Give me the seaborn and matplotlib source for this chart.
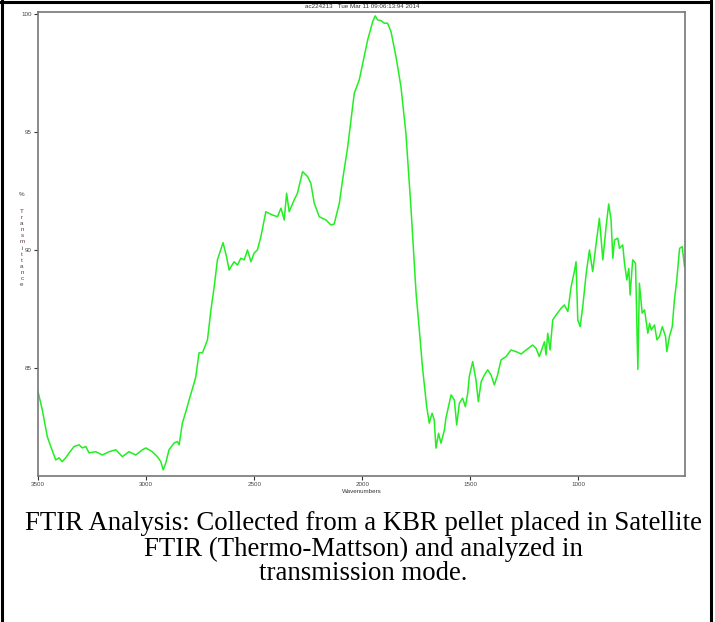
import numpy as np
import pandas as pd
import seaborn as sns
from matplotlib import pyplot as plt
from matplotlib.lines import Line2D

# spectrum (wavenumber, %T)
wavenumbers = [3500, 3480, 3457, 3441, 3418, 3403, 3388, 3372, 3356, 3333, 3310, 3295, 3279, 3264,
               3233, 3202, 3171, 3140, 3110, 3079, 3048, 3017, 3001, 2971, 2948, 2932, 2921, 2909,
               2894, 2870, 2855, 2847, 2832, 2816, 2801, 2778, 2770, 2755, 2739, 2716, 2700, 2685,
               2670, 2644, 2628, 2616, 2593, 2577, 2562, 2546, 2531, 2515, 2500, 2485, 2469, 2446,
               2415, 2392, 2376, 2361, 2350, 2338, 2315, 2300, 2276, 2253, 2238, 2222, 2199, 2168,
               2145, 2130, 2106, 2091, 2068, 2037, 2014, 1975, 1952, 1940, 1929, 1913, 1898, 1883,
               1867, 1844, 1821, 1798, 1775, 1751, 1736, 1721, 1702, 1690, 1677, 1667, 1659, 1647,
               1636, 1620, 1613, 1589, 1574, 1563, 1551, 1536, 1523, 1512, 1505, 1489, 1474, 1463,
               1450, 1435, 1420, 1404, 1389, 1374, 1358, 1335, 1312, 1288, 1265, 1242, 1212, 1196,
               1181, 1157, 1150, 1142, 1131, 1119, 1103, 1080, 1065, 1049, 1034, 1019, 1011, 1003,
               992, 980, 964, 949, 934, 918, 903, 887, 872, 860, 849, 841, 833, 818, 810, 795, 787,
               776, 767, 761, 749, 736, 730, 725, 718, 705, 694, 679, 671, 663, 648, 637, 625, 612,
               597, 591, 579, 566, 556, 545, 532, 520, 509]
transmittance = [84.00, 83.22, 82.09, 81.67, 81.10, 81.19, 81.03, 81.19, 81.40, 81.67, 81.74, 81.61,
                 81.67, 81.40, 81.45, 81.31, 81.45, 81.53, 81.24, 81.45, 81.31, 81.53, 81.61, 81.45,
                 81.24, 81.03, 80.68, 80.97, 81.53, 81.82, 81.88, 81.74, 82.67, 83.15, 83.64, 84.36,
                 84.63, 85.64, 85.64, 86.19, 87.46, 88.44, 89.58, 90.31, 89.72, 89.15, 89.50, 89.36,
                 89.65, 89.58, 90.00, 89.50, 89.87, 90.00, 90.56, 91.62, 91.48, 91.41, 91.77, 91.27,
                 92.40, 91.62, 92.12, 92.40, 93.32, 93.11, 92.83, 91.98, 91.41, 91.27, 91.06, 91.10,
                 91.98, 92.97, 94.32, 96.64, 97.20, 98.90, 99.67, 99.92, 99.75, 99.72, 99.61, 99.61,
                 99.25, 98.19, 96.92, 94.94, 91.83, 88.17, 86.61, 84.99, 83.36, 82.66, 83.08, 82.80,
                 81.60, 82.23, 81.81, 82.37, 82.87, 83.86, 83.64, 82.58, 83.50, 83.72, 83.36, 83.93,
                 84.63, 85.27, 84.49, 83.57, 84.42, 84.70, 84.92, 84.70, 84.28, 84.70, 85.34, 85.48,
                 85.76, 85.69, 85.59, 85.76, 85.97, 85.83, 85.48, 86.11, 85.55, 86.47, 85.76, 87.03,
                 87.25, 87.53, 87.67, 87.39, 88.43, 89.08, 89.50, 87.03, 86.75, 87.60, 89.01, 90.00,
                 89.08, 90.28, 91.34, 89.58, 90.99, 91.95, 91.27, 89.65, 90.42, 90.50, 90.07, 90.21,
                 89.44, 88.73, 89.22, 88.09, 89.58, 89.44, 87.03, 84.94, 88.59, 87.32, 87.46, 86.47,
                 86.89, 86.61, 86.82, 86.19, 86.33, 86.75, 86.33, 85.69, 86.33, 86.75, 87.88, 88.73,
                 90.07, 90.14, 89.29]

x_ticks = [3500, 3000, 2500, 2000, 1500, 1000]
y_ticks = [85, 90, 95, 100]
header = "ac224213   Tue Mar 11 09:06:13:94 2014"
caption = ["FTIR Analysis: Collected from a KBR pellet placed in Satellite",
           "FTIR (Thermo-Mattson) and analyzed in",
           "transmission mode."]

sns.set_style("white")
plt.rcParams['font.family'] = ['Liberation Sans', 'DejaVu Sans']

W, H = 715, 622
fig = plt.figure(figsize=(W / 100, H / 100), dpi=100)
ax = fig.add_axes([38 / W, 1 - 476 / H, 647 / W, 464 / H])

df = pd.DataFrame({'wn': wavenumbers, 't': transmittance})
sns.lineplot(data=df, x='wn', y='t', sort=False, color='#22ee22', linewidth=1.1, ax=ax)

ax.set_xlim(3500, 507)
ax.set_ylim(80.42, 100.085)
ax.set_xticks(x_ticks)
ax.set_xticklabels([str(v) for v in x_ticks])
ax.set_yticks(y_ticks)
ax.set_yticklabels([str(v) for v in y_ticks])
ax.tick_params(axis='both', direction='out', length=3, width=0.8, color='#333333',
               labelsize=4.5, labelcolor='#444444', pad=1.5, left=True, bottom=True)
ax.set_xlabel("Wavenumbers", fontsize=4.5, color='#333333', labelpad=1)
ax.set_ylabel("")
for s in ax.spines.values():
    s.set_color('#777777')
    s.set_linewidth(1.2)
ax.grid(False)

# header above the frame
fig.text(362 / W, 1 - 7 / H, header, ha='center', va='center', fontsize=4.5, color='#333333')

# stacked y label
fig.text(22 / W, 1 - 195 / H, "%", ha='center', va='center', fontsize=4.5, color='#444444')
fig.text(22 / W, 1 - 248 / H, "\n".join("Transmittance"), ha='center', va='center',
         fontsize=4.5, color='#5a3a4a', linespacing=1.27)

# caption
for i, line in enumerate(caption):
    fig.text(363 / W, 1 - (524 + 25 * i) / H, line, ha='center', va='center',
             fontsize=19.3, family=['Liberation Serif', 'DejaVu Serif'], color='black')

# outer frame
for xs, ys in [([1.5, 1.5], [0, H]), ([0, 711], [H - 1.5, H - 1.5]), ([710.5, 710.5], [0, H])]:
    fig.add_artist(Line2D([x / W for x in xs], [y / H for y in ys], color='black',
                          linewidth=2.2, transform=fig.transFigure))

fig.savefig("out.png", dpi=100)
